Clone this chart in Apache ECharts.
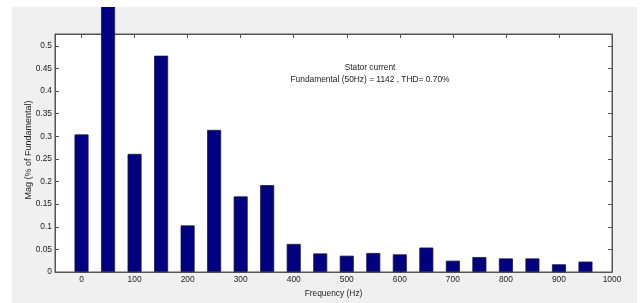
<!DOCTYPE html>
<html>
<head>
<meta charset="utf-8">
<script src="https://cdn.jsdelivr.net/npm/echarts@6/dist/echarts.min.js"></script>
<style>
  html, body { margin: 0; padding: 0; background: #fff; }
  .fig { position: absolute; left: 12px; top: 7px; width: 625px; height: 296px; background: #f0f0f0; }
  #chart { position: absolute; left: 0; top: 0; width: 640px; height: 303px; }
</style>
</head>
<body>
<div class="fig"></div>
<div id="chart"></div>
<script>
// harmonic frequencies (Hz) and magnitudes (% of fundamental)
const freqs = [0, 50, 100, 150, 200, 250, 300, 350, 400, 450, 500, 550, 600, 650, 700, 750, 800, 850, 900, 950]
const mags = [0.304, 100, 0.261, 0.478, 0.103, 0.314, 0.167, 0.192, 0.062, 0.041,
              0.036, 0.042, 0.039, 0.054, 0.025, 0.033, 0.030, 0.030, 0.017, 0.023]
const xTicks = [0, 100, 200, 300, 400, 500, 600, 700, 800, 900, 1000]
const yTicks = [0, 0.05, 0.1, 0.15, 0.2, 0.25, 0.3, 0.35, 0.4, 0.45, 0.5]
const titleLines = ['Stator current', 'Fundamental (50Hz) = 1142 , THD= 0.70%']

const font = 'Liberation Sans, Arial, sans-serif'
const fs = 8.4
const axisColor = '#555'

const tickCfg = (vals) => ({
    show: true,
    inside: true,
    length: 4,
    customValues: vals,
    lineStyle: { color: axisColor },
})
const lineCfg = { show: true, onZero: false, lineStyle: { color: axisColor } }

const chart = echarts.init(document.getElementById('chart'))

const option = {
    backgroundColor: 'transparent',
    animation: false,
    textStyle: { fontFamily: font },
    grid: {
        left: 55, right: 28, top: 34, bottom: 27,
        show: true,
        backgroundColor: '#fff',
        borderColor: axisColor,
        borderWidth: 1,
    },
    xAxis: [
        {
            type: 'value',
            min: -50,
            max: 1000,
            position: 'bottom',
            name: 'Frequency (Hz)',
            nameLocation: 'middle',
            nameGap: 18,
            nameMoveOverlap: false,
            nameTextStyle: { fontSize: fs, color: '#222', fontFamily: font },
            splitLine: { show: false },
            axisLine: lineCfg,
            axisTick: tickCfg(xTicks),
            axisLabel: {
                customValues: xTicks, fontSize: fs, color: '#222', margin: 4, fontFamily: font,
                formatter: (v) => String(v),
            },
        },
        {
            type: 'value',
            min: -50,
            max: 1000,
            position: 'top',
            splitLine: { show: false },
            axisLine: lineCfg,
            axisTick: tickCfg(xTicks),
            axisLabel: { show: false },
        },
    ],
    yAxis: [
        {
            type: 'value',
            min: 0,
            max: 0.526,
            position: 'left',
            name: 'Mag (% of Fundamental)',
            nameLocation: 'middle',
            nameGap: 22,
            nameMoveOverlap: false,
            nameTextStyle: { fontSize: 9, color: '#222', fontFamily: font, padding: [0, 0, 0, 6] },
            splitLine: { show: false },
            axisLine: lineCfg,
            axisTick: tickCfg(yTicks),
            axisLabel: { customValues: yTicks, fontSize: fs, color: '#222', margin: 3, fontFamily: font },
        },
        {
            type: 'value',
            min: 0,
            max: 0.526,
            position: 'right',
            splitLine: { show: false },
            axisLine: lineCfg,
            axisTick: tickCfg(yTicks),
            axisLabel: { show: false },
        },
    ],
    series: [
        {
            type: 'bar',
            data: freqs.map((f, i) => [f, mags[i]]),
            barWidth: 14,
            clip: false,
            itemStyle: { color: '#000080', borderColor: '#1a1a40', borderWidth: 0.8 },
        },
    ],
    graphic: [
        // white strip above the figure window hides the clipped fundamental bar
        { type: 'rect', shape: { x: 0, y: 0, width: 640, height: 7 }, style: { fill: '#fff' }, z: 100 },
        {
            type: 'text', x: 370, y: 64, z: 50,
            style: { text: titleLines[0], textAlign: 'center', fontSize: fs, fill: '#222', fontFamily: font },
        },
        {
            type: 'text', x: 370, y: 76, z: 50,
            style: { text: titleLines[1], textAlign: 'center', fontSize: fs, fill: '#222', fontFamily: font },
        },
    ],
}

chart.setOption(option)
</script>
</body>
</html>
